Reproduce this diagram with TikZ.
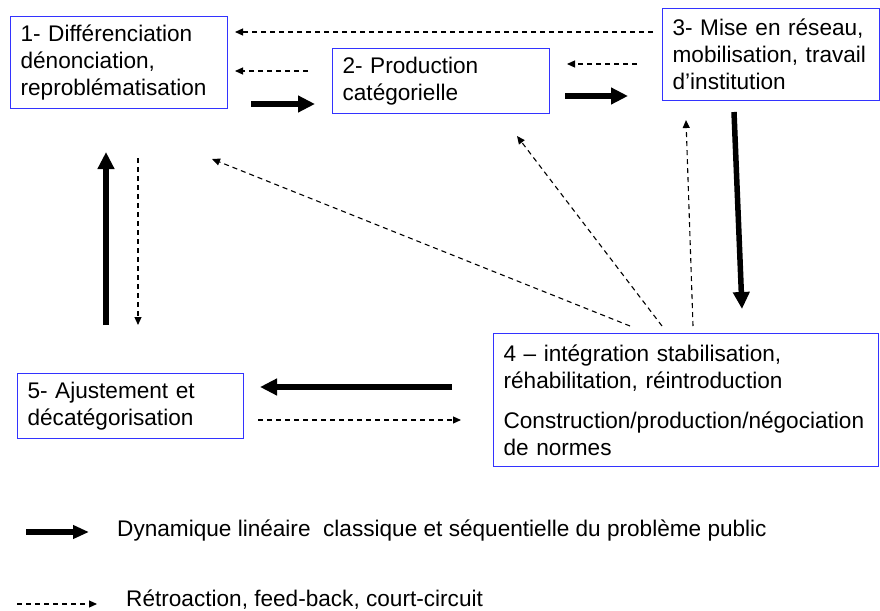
\documentclass[tikz,border=0pt]{standalone}
\usepackage{fontspec}
\setmainfont{Liberation Sans}
\usetikzlibrary{arrows.meta}
\definecolor{boxblue}{RGB}{51,51,255}
\begin{document}
\begin{tikzpicture}[x=1pt,y=-1pt,
  box/.style={draw=boxblue, line width=1.2pt, anchor=north west, inner xsep=10pt, inner ysep=0pt,
    align=left, font=\fontsize{22.6}{27}\selectfont},
  mainarrow/.style={line width=5.5pt, -{Triangle[length=17pt,width=16pt]}},
  legarrow/.style={line width=5.5pt, -{Triangle[length=16pt,width=13pt]}},
  feedback/.style={line width=1.1pt, dash pattern=on 5pt off 4pt, -{Triangle[length=8pt,width=7pt]}},
  legtext/.style={anchor=base west, inner sep=0pt, font=\fontsize{22.6}{27}\selectfont}]
\useasboundingbox[fill=white] (0,0) rectangle (880,610);

% boxes
\node[box, text width=197pt, minimum height=92pt] (b1) at (10,16)
  {1- Différenciation\\dénonciation,\\reproblématisation};
\node[box, text width=197pt, minimum height=65pt] (b2) at (332,48)
  {2- Production\\catégorielle};
\node[box, text width=197pt, minimum height=92pt] (b3) at (662,8)
  {3- Mise en réseau,\\mobilisation, travail\\d’institution};
\node[box, text width=365pt, minimum height=133pt] (b4) at (493,333)
  {4 – intégration stabilisation,\\réhabilitation, réintroduction\\[13pt]Construction/production/négociation\\de normes};
\node[box, text width=206pt, minimum height=65pt] (b5) at (17,373)
  {5- Ajustement et\\décatégorisation};

% arrow end points
\coordinate (p31s) at (653,32);  \coordinate (p31e) at (235,32);
\coordinate (p21s) at (308,71);  \coordinate (p21e) at (235,71);
\coordinate (p12s) at (251,104); \coordinate (p12e) at (315,104);
\coordinate (p32s) at (637,64);  \coordinate (p32e) at (567,64);
\coordinate (p23s) at (565,96);  \coordinate (p23e) at (628,96);
\coordinate (p34s) at (734,112); \coordinate (p34e) at (742,309);
\coordinate (p41s) at (630,326); \coordinate (p41e) at (212,159);
\coordinate (p42s) at (662,326); \coordinate (p42e) at (517,136);
\coordinate (p43s) at (693,326); \coordinate (p43e) at (686,120);
\coordinate (p45s) at (452,387); \coordinate (p45e) at (260,387);
\coordinate (p54s) at (258,420); \coordinate (p54e) at (461,420);
\coordinate (p51s) at (106,325); \coordinate (p51e) at (106,152);
\coordinate (p15s) at (138,158); \coordinate (p15e) at (138,325);

% main sequence
\draw[mainarrow] (p12s) -- (p12e);
\draw[mainarrow] (p23s) -- (p23e);
\draw[mainarrow] (p34s) -- (p34e);
\draw[mainarrow] (p45s) -- (p45e);
\draw[mainarrow] (p51s) -- (p51e);

% feedback
\draw[feedback] (p31s) -- (p31e);
\draw[feedback] (p21s) -- (p21e);
\draw[feedback] (p32s) -- (p32e);
\draw[feedback] (p41s) -- (p41e);
\draw[feedback] (p42s) -- (p42e);
\draw[feedback] (p43s) -- (p43e);
\draw[feedback] (p54s) -- (p54e);
\draw[feedback] (p15s) -- (p15e);

% legend
\coordinate (l1s) at (26,532); \coordinate (l1e) at (89,532);
\coordinate (l2s) at (17,604); \coordinate (l2e) at (97,604);
\draw[legarrow] (l1s) -- (l1e);
\draw[feedback] (l2s) -- (l2e);
\node[legtext] (t1) at (117,536) {Dynamique linéaire~ classique et séquentielle du problème public};
\node[legtext] (t2) at (126,606) {Rétroaction, feed-back, court-circuit};
\end{tikzpicture}
\end{document}
